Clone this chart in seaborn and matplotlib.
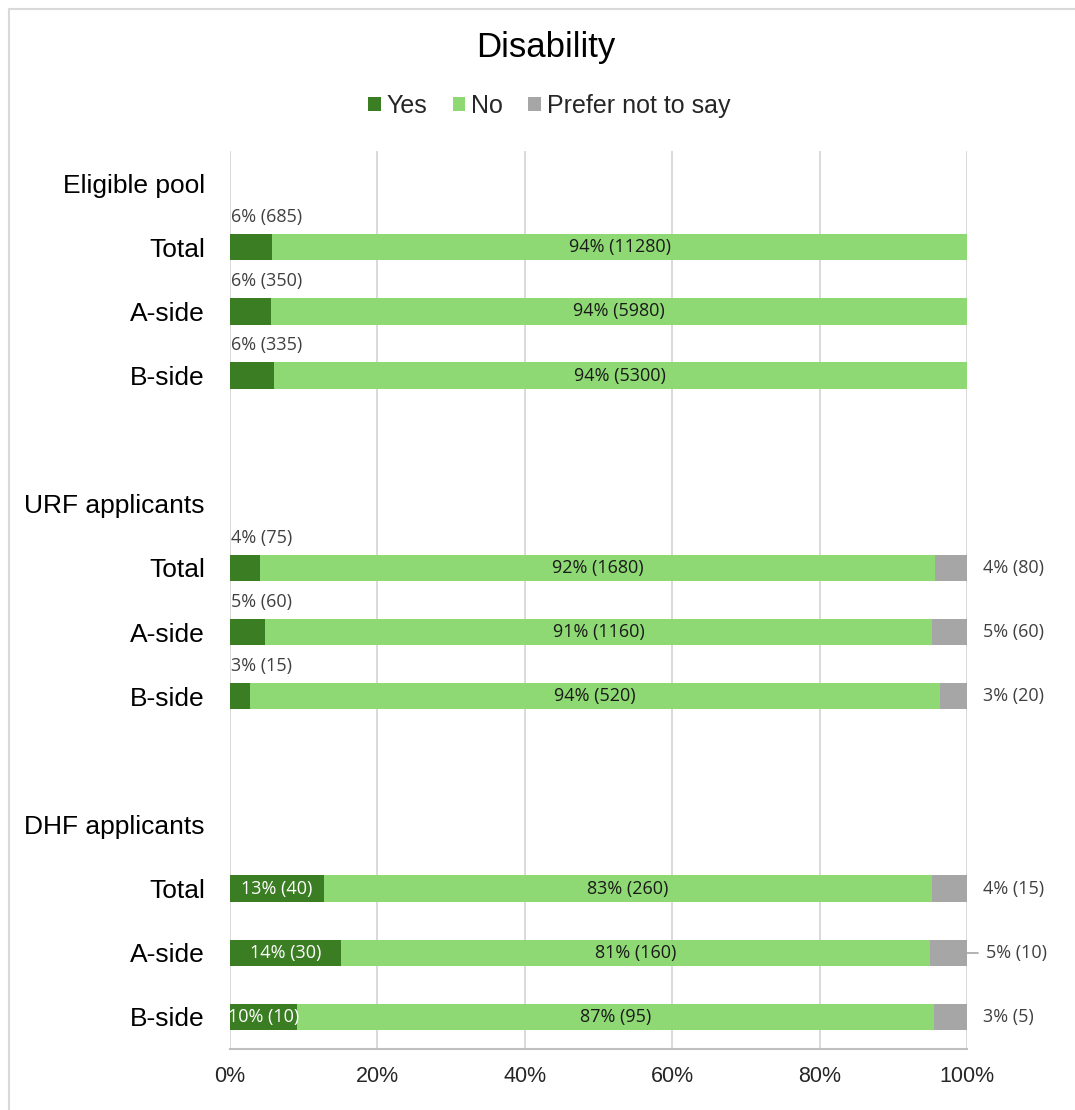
import matplotlib
matplotlib.use("Agg")
import matplotlib.pyplot as plt
from matplotlib.patches import Patch
from matplotlib.lines import Line2D
import seaborn as sns
import pandas as pd

# ---- data -------------------------------------------------------------
groups = ["Eligible pool", "URF applicants", "DHF applicants"]
subgroups = ["Total", "A-side", "B-side"]
categories = ["Yes", "No", "Prefer not to say"]

# counts per row, in order: group x subgroup
yes_counts = [685, 350, 335, 75, 60, 15, 40, 30, 10]
no_counts = [11280, 5980, 5300, 1680, 1160, 520, 260, 160, 95]
pnts_counts = [0, 0, 0, 80, 60, 20, 15, 10, 5]

# percentages as printed on the labels
yes_pct = [6, 6, 6, 4, 5, 3, 13, 14, 10]
no_pct = [94, 94, 94, 92, 91, 94, 83, 81, 87]
pnts_pct = [None, None, None, 4, 5, 3, 4, 5, 3]

x_ticks = [0, 0.2, 0.4, 0.6, 0.8, 1.0]
x_ticklabels = ["0%", "20%", "40%", "60%", "80%", "100%"]

# ---- styling ----------------------------------------------------------
colors = {"Yes": "#3b7d23", "No": "#8ed973", "Prefer not to say": "#a6a6a6"}
inside_yes_groups = {"DHF applicants"}
leader_rows = {("DHF applicants", "A-side")}

sns.set_theme(style="white")
plt.rcParams["font.family"] = ["Liberation Sans", "DejaVu Sans"]
label_font = ["Open Sans", "DejaVu Sans"]

# ---- row layout: header row per group, blank spacer between groups ----
order, ticklabels, records = [], [], []
k = 0
for gi, g in enumerate(groups):
    if gi > 0:
        order.append(f"_gap{gi}")
        ticklabels.append("")
    order.append(g)
    ticklabels.append(g)
    for s in subgroups:
        key = f"{g}|{s}"
        order.append(key)
        ticklabels.append(s)
        tot = yes_counts[k] + no_counts[k] + pnts_counts[k]
        records.append(dict(
            key=key, group=g, sub=s,
            yes=yes_counts[k] / tot,
            no=no_counts[k] / tot,
            pnts=pnts_counts[k] / tot,
            yes_lab=f"{yes_pct[k]}% ({yes_counts[k]})",
            no_lab=f"{no_pct[k]}% ({no_counts[k]})",
            pnts_lab=(f"{pnts_pct[k]}% ({pnts_counts[k]})"
                      if pnts_pct[k] is not None else None),
        ))
        k += 1

df = pd.DataFrame(records)
df["cum_no"] = df["yes"] + df["no"]
df["cum_all"] = df["cum_no"] + df["pnts"]

# ---- figure -------------------------------------------------------------
fig = plt.figure(figsize=(10.75, 11.1), dpi=100)
ax = fig.add_axes([230 / 1075, 1 - 1049 / 1110, 737 / 1075, 898 / 1110])

bar_w = 0.41
# stacked bars drawn back to front as cumulative totals
for col, cat in [("cum_all", "Prefer not to say"), ("cum_no", "No"), ("yes", "Yes")]:
    sns.barplot(data=df, x=col, y="key", order=order, orient="h",
                color=colors[cat], saturation=1, width=bar_w,
                errorbar=None, ax=ax, zorder=3, linewidth=0, edgecolor="none")

ax.set_xlim(0, 1)
ax.set_ylim(len(order) - 0.5, -0.5)
ax.set_xlabel("")
ax.set_ylabel("")

ax.set_xticks(x_ticks)
ax.set_xticklabels(x_ticklabels)
ax.set_yticks(range(len(order)))
ax.set_yticklabels(ticklabels)

ax.xaxis.grid(True, color="#d9d9d9", linewidth=1.4, zorder=0)
ax.yaxis.grid(False)
ax.set_axisbelow(True)
for side in ["top", "right", "left"]:
    ax.spines[side].set_visible(False)
ax.spines["bottom"].set_color("#bfbfbf")
ax.spines["bottom"].set_linewidth(1.5)

ax.tick_params(axis="x", direction="out", length=4, width=1.2, color="#bfbfbf",
               labelsize=15.5, labelcolor="#262626", pad=8)
ax.tick_params(axis="y", length=0, labelsize=19, labelcolor="#000000", pad=18)

# ---- data labels --------------------------------------------------------
lab_kw = dict(fontsize=13, family=label_font, va="center", zorder=5)
for _, r in df.iterrows():
    y = order.index(r["key"])
    if r["group"] in inside_yes_groups:
        ax.text(r["yes"] / 2, y, r["yes_lab"], ha="center", color="white", **lab_kw)
    else:
        ax.text(0.002, y - 0.47, r["yes_lab"], ha="left", color="#404040", **lab_kw)
    ax.text(r["yes"] + r["no"] / 2, y, r["no_lab"], ha="center", color="#1a1a1a", **lab_kw)
    if r["pnts_lab"] is not None:
        if (r["group"], r["sub"]) in leader_rows:
            ax.plot([1.0, 1.015], [y, y], color="#a6a6a6", lw=1.2,
                    clip_on=False, zorder=4)
            ax.text(1.026, y, r["pnts_lab"], ha="left", color="#404040", **lab_kw)
        else:
            ax.text(1.0217, y, r["pnts_lab"], ha="left", color="#404040", **lab_kw)

# ---- title and legend ---------------------------------------------------
fig.text(0.5075, 1 - 47 / 1110, "Disability", ha="center", va="center",
         fontsize=25, color="#000000")

handles = [Patch(facecolor=colors[c], edgecolor="none") for c in categories]
fig.legend(handles, categories, loc="center", bbox_to_anchor=(0.511, 1 - 106 / 1110),
           ncol=3, frameon=False, fontsize=18, handlelength=0.5, handleheight=0.5,
           handletextpad=0.25, columnspacing=1.0, borderpad=0)

# chart-area frame (top and left edges)
fig.add_artist(Line2D([9 / 1075, 1], [1 - 9 / 1110] * 2, transform=fig.transFigure,
                      color="#d9d9d9", lw=1.5))
fig.add_artist(Line2D([9 / 1075] * 2, [0, 1 - 9 / 1110], transform=fig.transFigure,
                      color="#d9d9d9", lw=1.5))

fig.savefig("out.png", dpi=100)
